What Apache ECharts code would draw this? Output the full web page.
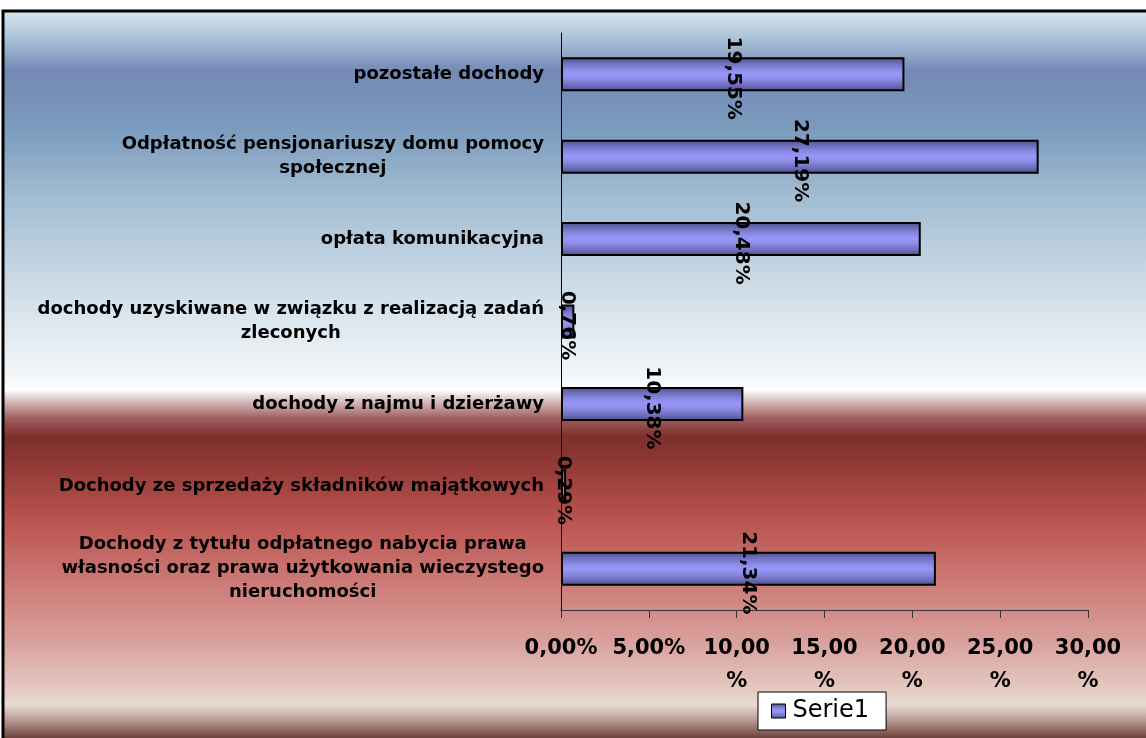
<!DOCTYPE html>
<html>
<head>
<meta charset="utf-8">
<script src="https://cdn.jsdelivr.net/npm/echarts@6/dist/echarts.min.js"></script>
<style>
  html, body { margin: 0; padding: 0; background: #fff; }
  #chart { width: 1146px; height: 738px; }
</style>
</head>
<body>
<div id="chart"></div>
<script>
// categories from top to bottom
const categories = [
  'pozostałe dochody',
  'Odpłatność pensjonariuszy domu pomocy społecznej',
  'opłata komunikacyjna',
  'dochody uzyskiwane w związku z realizacją zadań zleconych',
  'dochody z najmu i dzierżawy',
  'Dochody ze sprzedaży składników majątkowych',
  'Dochody z tytułu odpłatnego nabycia prawa własności oraz prawa użytkowania wieczystego nieruchomości'
];
const serie1 = [19.55, 27.19, 20.48, 0.76, 10.38, 0.29, 21.34];
const seriesName = 'Serie1';
const axisMin = 0, axisMax = 30, axisStep = 5;

const FONT = '"DejaVu Sans", "Liberation Sans", Arial, sans-serif';
const catFontSize = 18;
const catMaxWidth = 520;

// excel-like word wrap, measured with canvas
const measureCtx = document.createElement('canvas').getContext('2d');
function wrapLabel(text) {
  measureCtx.font = 'bold ' + catFontSize + 'px ' + FONT;
  const words = text.split(' ');
  const lines = [];
  let line = '';
  words.forEach(w => {
    const test = line ? line + ' ' + w : w;
    if (line && measureCtx.measureText(test).width > catMaxWidth) {
      lines.push(line);
      line = w;
    } else {
      line = test;
    }
  });
  if (line) lines.push(line);
  return lines.map(l => '{c|' + l + '}').join('\n');
}

function pct(v) {
  return v.toFixed(2).replace('.', ',') + '%';
}

const barFill = new echarts.graphic.LinearGradient(0, 0, 0, 1, [
  {offset: 0, color: '#4b4b82'},
  {offset: 0.15, color: '#6a6ab6'},
  {offset: 0.35, color: '#8a8ae4'},
  {offset: 0.5, color: '#9797fb'},
  {offset: 0.65, color: '#8a8ae4'},
  {offset: 0.85, color: '#6a6ab6'},
  {offset: 1, color: '#4b4b82'}
]);

const bgFill = new echarts.graphic.LinearGradient(0, 0, 0, 1, [
  {offset: 0.000, color: '#d8e6ef'},
  {offset: 0.040, color: '#a9c2d6'},
  {offset: 0.082, color: '#7489b5'},
  {offset: 0.160, color: '#7b9bbd'},
  {offset: 0.255, color: '#a3bdd2'},
  {offset: 0.378, color: '#cfdde8'},
  {offset: 0.498, color: '#f5f8fa'},
  {offset: 0.512, color: '#ffffff'},
  {offset: 0.522, color: '#e4d2d2'},
  {offset: 0.550, color: '#a06060'},
  {offset: 0.575, color: '#7d2e2b'},
  {offset: 0.620, color: '#963c38'},
  {offset: 0.688, color: '#bb5450'},
  {offset: 0.770, color: '#cc7a76'},
  {offset: 0.850, color: '#d9a09c'},
  {offset: 0.918, color: '#e5cbc4'},
  {offset: 0.935, color: '#e8dcd4'},
  {offset: 0.952, color: '#c4aaa4'},
  {offset: 0.982, color: '#6a3e36'},
  {offset: 1.000, color: '#5a3028'}
]);

const chart = echarts.init(document.getElementById('chart'));
chart.setOption({
  animation: false,
  backgroundColor: '#fff',
  graphic: [{
    type: 'rect',
    z: -10,
    shape: {x: 3, y: 11, width: 1160, height: 740},
    style: {fill: bgFill, stroke: '#000', lineWidth: 3}
  }],
  grid: {left: 561, right: 58, top: 33, bottom: 128},
  legend: {
    data: [seriesName],
    left: 758,
    top: 692,
    padding: [7, 17, 7, 13],
    backgroundColor: '#fff',
    borderColor: '#000',
    borderWidth: 1,
    borderRadius: 0,
    itemWidth: 14,
    itemHeight: 14,
    itemGap: 8,
    icon: 'rect',
    itemStyle: {borderColor: '#000', borderWidth: 1},
    textStyle: {fontSize: 24, color: '#000', fontFamily: FONT, padding: [0, 0, 0, 2]}
  },
  xAxis: {
    type: 'value',
    min: axisMin,
    max: axisMax,
    interval: axisStep,
    splitLine: {show: false},
    axisLine: {show: true, lineStyle: {color: '#333', width: 1}},
    axisTick: {show: true, length: 8, lineStyle: {color: '#333'}},
    axisLabel: {
      margin: 22,
      fontSize: 21,
      fontWeight: 'bold',
      fontFamily: FONT,
      color: '#000',
      lineHeight: 33,
      width: 80,
      overflow: 'breakAll',
      formatter: v => pct(v)
    }
  },
  yAxis: {
    type: 'category',
    inverse: true,
    data: categories,
    axisLine: {show: true, lineStyle: {color: '#000', width: 1}},
    axisTick: {show: false},
    axisLabel: {
      margin: 17,
      align: 'right',
      color: '#000',
      formatter: v => wrapLabel(v),
      rich: {
        c: {
          align: 'center',
          fontSize: catFontSize,
          fontWeight: 'bold',
          fontFamily: FONT,
          color: '#000',
          lineHeight: 24
        }
      }
    }
  },
  series: [{
    name: seriesName,
    type: 'bar',
    data: serie1,
    barWidth: 34,
    itemStyle: {color: barFill, borderColor: '#000', borderWidth: 2},
    label: {
      show: true,
      position: 'inside',
      rotate: -90,
      align: 'center',
      verticalAlign: 'middle',
      fontSize: 20,
      fontWeight: 'bold',
      fontFamily: FONT,
      color: '#000',
      offset: [4, 0],
      formatter: p => pct(p.value)
    }
  }]
});
</script>
</body>
</html>
